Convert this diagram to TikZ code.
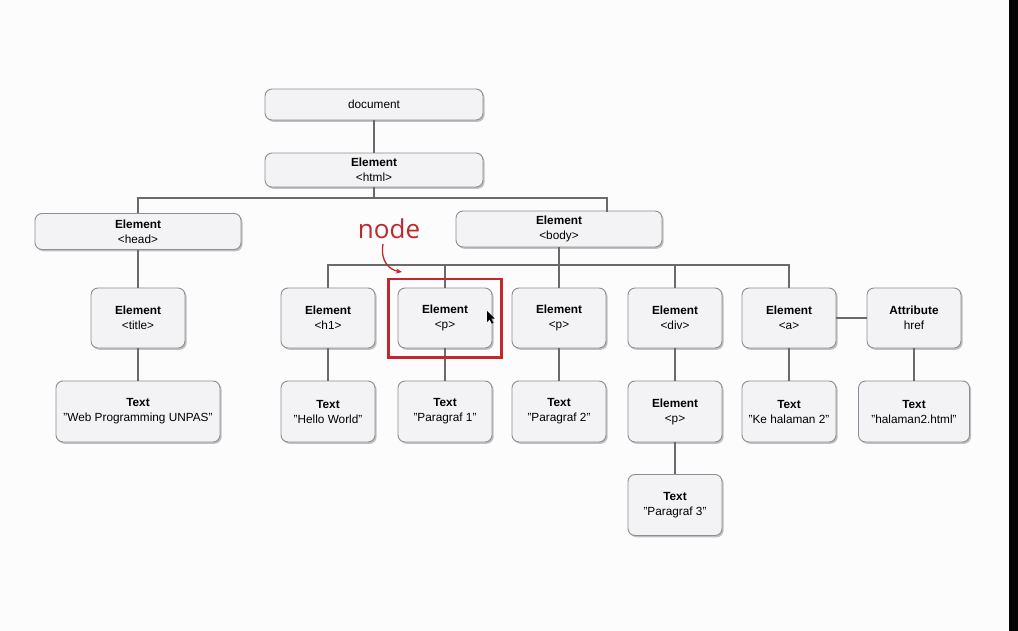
\documentclass[tikz,border=0pt]{standalone}
\usepackage{fontspec}
\setmainfont{Liberation Sans}
\newfontfamily\handfont{Open Sans}
\usetikzlibrary{shadows,arrows.meta}
\definecolor{boxfill}{HTML}{F3F3F5}
\definecolor{boxline}{HTML}{8E8E92}
\definecolor{conn}{HTML}{6A6A6A}
\definecolor{markred}{HTML}{C3262C}
\definecolor{bg}{HTML}{FCFCFD}
\definecolor{edgeblack}{HTML}{050505}
\newcommand\dq{\char34\relax}
\tikzset{
  domnode/.style={draw=boxline, line width=0.9pt, fill=boxfill, rounded corners=7pt,
    align=center, inner sep=0pt, font=\fontsize{11.8}{15}\selectfont,
    drop shadow={shadow xshift=1.6pt, shadow yshift=-1.8pt, opacity=0.4, fill=black!60}},
  widebox/.style={domnode, minimum width=206pt, minimum height=36pt},
  smallbox/.style={domnode, minimum width=94pt, minimum height=60pt},
  link/.style={draw=conn, line width=1.1pt},
  hilite/.style={draw=markred, line width=2.6pt},
}
\begin{document}
\begin{tikzpicture}[x=1pt,y=-1pt]
\useasboundingbox (0,0) rectangle (1018,631);
\fill[bg] (0,0) rectangle (1009,631);
\fill[edgeblack] (1009,0) rectangle (1018,631);

\coordinate (j1) at (374,198);
\coordinate (bj) at (607,212);
\coordinate (j2) at (559,265);

\node[domnode, minimum width=218pt, minimum height=31pt] (doc) at (374,104.5) {document};
\node[domnode, minimum width=218pt, minimum height=34pt] (html) at (374,170) {\textbf{Element}\\<html>};
\node[widebox] (head) at (138,231.5) {\textbf{Element}\\<head>};
\node[widebox] (body) at (559,229) {\textbf{Element}\\<body>};

\node[smallbox] (title) at (138,318) {\textbf{Element}\\<title>};
\node[smallbox] (h1) at (328,318) {\textbf{Element}\\<h1>};
\node[smallbox] (p1) at (445,318) {\textbf{Element}\\<p>};
\node[smallbox] (p2) at (559,318) {\textbf{Element}\\<p>};
\node[smallbox] (div) at (675,318) {\textbf{Element}\\<div>};
\node[smallbox] (a) at (789,318) {\textbf{Element}\\<a>};
\node[smallbox] (href) at (914,318) {\textbf{Attribute}\\href};

\node[smallbox, minimum width=164pt, minimum height=61pt] (t1) at (138,411.5) {\textbf{Text}\\\dq Web Programming UNPAS\dq};
\node[smallbox, minimum height=61pt] (t2) at (328,411.5) {\textbf{Text}\\\dq Hello World\dq};
\node[smallbox, minimum height=61pt] (t3) at (445,411.5) {\textbf{Text}\\\dq Paragraf 1\dq};
\node[smallbox, minimum height=61pt] (t4) at (559,411.5) {\textbf{Text}\\\dq Paragraf 2\dq};
\node[smallbox, minimum height=61pt] (p3) at (675,411.5) {\textbf{Element}\\<p>};
\node[smallbox, minimum height=61pt] (t5) at (789,411.5) {\textbf{Text}\\\dq Ke halaman 2\dq};
\node[smallbox, minimum width=111pt, minimum height=61pt] (t6) at (914,411.5) {\textbf{Text}\\\dq halaman2.html\dq};
\node[smallbox, minimum height=61pt] (t7) at (675,505) {\textbf{Text}\\\dq Paragraf 3\dq};

\draw[link] (doc.south) -- (html.north);
\draw[link] (html.south) -- (j1);
\draw[link] (head.north) |- (j1) -| (bj);
\draw[link] (body.south) -- (j2);
\draw[link] (h1.north) |- (j2) -| (a.north);
\draw[link] (p1.north) -- (p1.north |- j2);
\draw[link] (p2.north) -- (j2);
\draw[link] (div.north) -- (div.north |- j2);
\draw[link] (a.east) -- (href.west);
\draw[link] (head.south) -- (title.north);
\draw[link] (title.south) -- (t1.north);
\draw[link] (h1.south) -- (t2.north);
\draw[link] (p1.south) -- (t3.north);
\draw[link] (p2.south) -- (t4.north);
\draw[link] (div.south) -- (p3.north);
\draw[link] (p3.south) -- (t7.north);
\draw[link] (a.south) -- (t5.north);
\draw[link] (href.south) -- (t6.north);

\coordinate (rtl) at (388.5,279);
\coordinate (rbr) at (501.5,357.5);
\draw[hilite] (rtl) rectangle (rbr);
\node[text=markred, font=\handfont\fontsize{26}{26}\selectfont, inner sep=0pt] (lbl) at (389,229) {node};
\coordinate (arrtip) at (402,272);
\draw[markred, line width=1.3pt, -{Stealth[length=6pt,width=5pt]}] (383,244) .. controls (380,262) and (390,270) .. (arrtip);

\coordinate (cur) at (487,311);
\fill[black] (cur) -- ++(0,11) -- ++(2.6,-2.6) -- ++(2.2,4.2) -- ++(1.6,-0.8) -- ++(-2.1,-4.1) -- ++(3.6,0) -- cycle;
\end{tikzpicture}
\end{document}
